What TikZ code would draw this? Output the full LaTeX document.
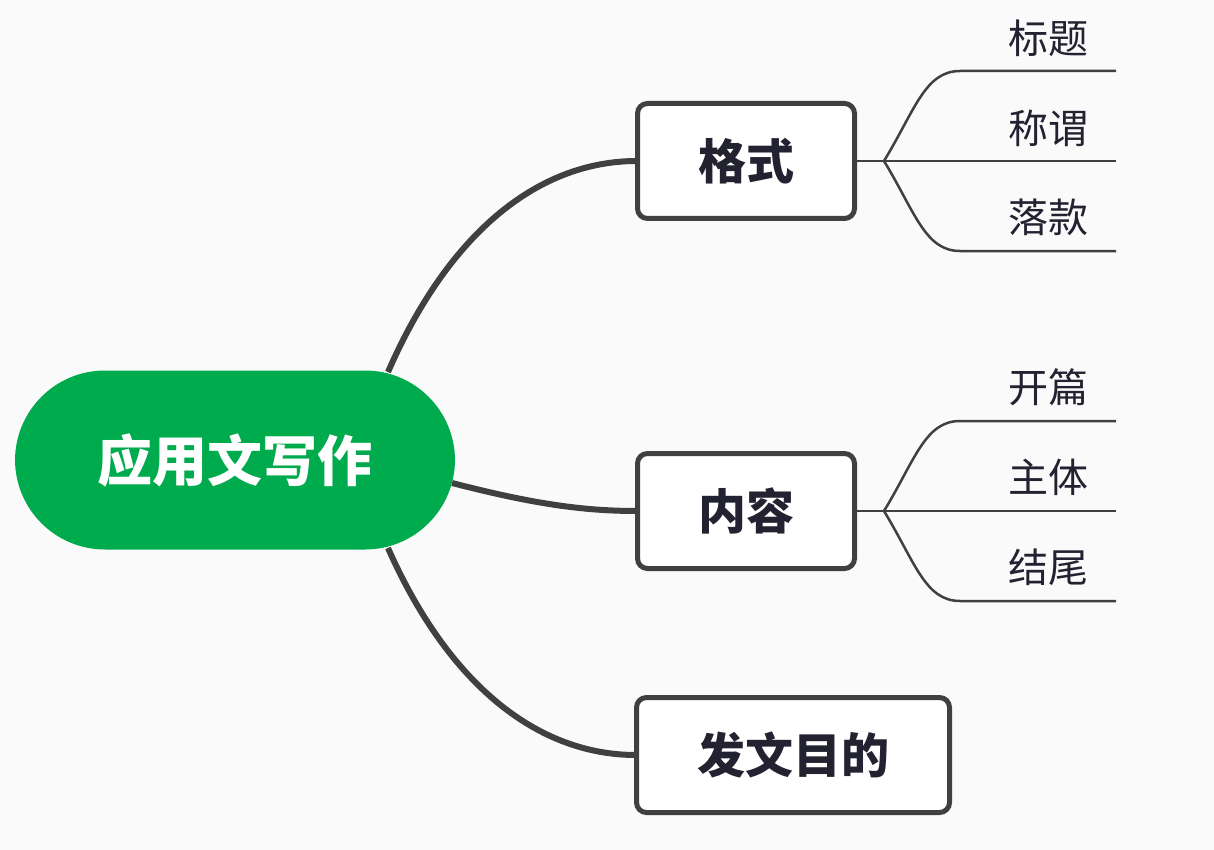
\documentclass[tikz,border=0pt]{standalone}
\usepackage{fontspec}
\setmainfont{Noto Sans CJK SC}
\usetikzlibrary{backgrounds}
\definecolor{bg}{HTML}{FAFAFB}
\definecolor{mgreen}{HTML}{00AB4E}
\definecolor{edge}{HTML}{404040}
\definecolor{txt}{HTML}{222230}
\begin{document}
\begin{tikzpicture}[x=1pt,y=-1pt,
  root/.style={draw=none,fill=mgreen,rounded corners=90pt,minimum width=440pt,minimum height=179pt,text=white,font=\fontsize{55}{60}\selectfont\bfseries,inner sep=0pt},
  topic/.style={draw=edge,line width=5pt,fill=white,rounded corners=10pt,minimum height=115pt,text=txt,font=\fontsize{48}{52}\selectfont\bfseries,inner sep=0pt},
  leaf/.style={text=txt,font=\fontsize{40}{44}\selectfont,inner sep=0pt},
  mainline/.style={draw=edge,line width=6pt},
  subline/.style={draw=edge,line width=2.5pt}]
\useasboundingbox (0,0) rectangle (1214,850);

\node[root] (r) at (235,460) {应用文写作};
\node[topic,minimum width=217pt] (a) at (746,161) {格式};
\node[topic,minimum width=217pt] (b) at (746,511) {内容};
\node[topic,minimum width=313pt] (c) at (793,755) {发文目的};

\coordinate (ra) at (388,372);
\coordinate (rb) at (452,483);
\coordinate (rc) at (388,548);
\coordinate (aw) at ([xshift=2pt]a.west);
\coordinate (bw) at ([xshift=2pt]b.west);
\coordinate (cw) at ([xshift=2pt]c.west);

\begin{pgfonlayer}{background}
\fill[bg] (0,0) rectangle (1214,850);
\draw[mainline] (ra) .. controls (450,230) and (540,161) .. (aw);
\draw[mainline] (rb) .. controls (530,503) and (580,511) .. (bw);
\draw[mainline] (rc) .. controls (450,688) and (540,755) .. (cw);
\end{pgfonlayer}

% 格式 leaves
\coordinate (ja) at (884,161);
\coordinate (a1) at (1116,71);
\coordinate (a2) at (1116,161);
\coordinate (a3) at (1116,251);
\draw[subline] (a.east) -- (a2);
\draw[subline] (ja) .. controls (915,110) and (925,71) .. (960,71) -- (a1);
\draw[subline] (ja) .. controls (915,212) and (925,251) .. (960,251) -- (a3);
\node[leaf] (t1) at (1048,38) {标题};
\node[leaf] (t2) at (1048,128) {称谓};
\node[leaf] (t3) at (1048,217) {落款};

% 内容 leaves
\coordinate (jb) at (884,511);
\coordinate (b1) at (1116,421);
\coordinate (b2) at (1116,511);
\coordinate (b3) at (1116,601);
\draw[subline] (b.east) -- (b2);
\draw[subline] (jb) .. controls (915,460) and (925,421) .. (960,421) -- (b1);
\draw[subline] (jb) .. controls (915,562) and (925,601) .. (960,601) -- (b3);
\node[leaf] (u1) at (1048,387) {开篇};
\node[leaf] (u2) at (1048,477) {主体};
\node[leaf] (u3) at (1048,567) {结尾};
\end{tikzpicture}
\end{document}
